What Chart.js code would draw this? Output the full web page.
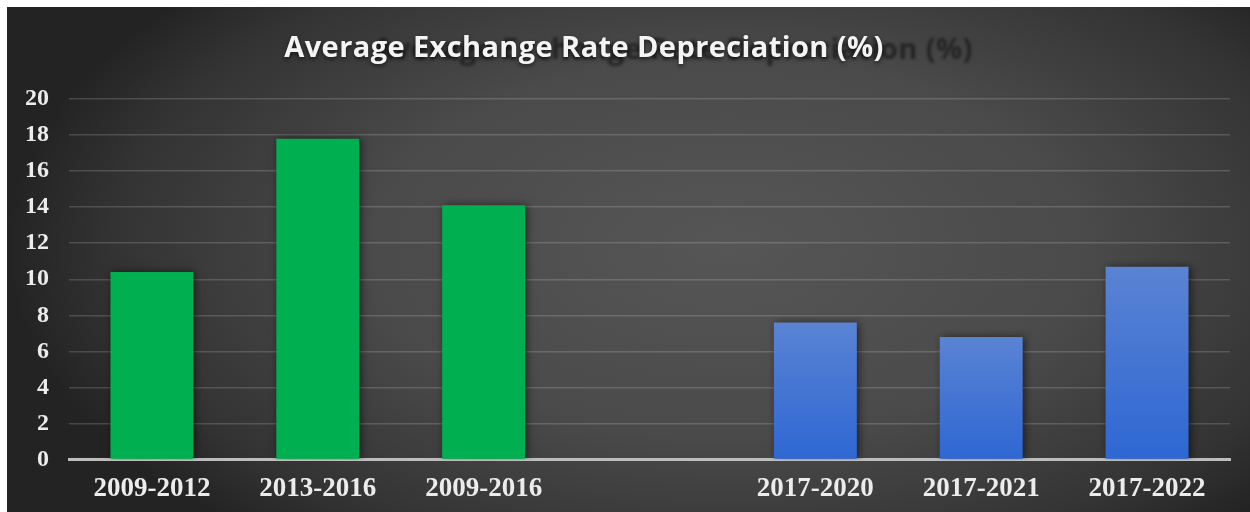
<!DOCTYPE html>
<html lang="en">
<head>
  <meta charset="UTF-8">
  <title>Average Exchange Rate Depreciation (%)</title>
  <script src="https://cdn.jsdelivr.net/npm/chart.js"></script>
  <style>
    html, body {
      margin: 0;
      padding: 0;
      background: #ffffff;
      width: 1250px;
      height: 512px;
      overflow: hidden;
    }
    .wrap {
      position: absolute;
      left: 7px;
      top: 7px;
      width: 1243px;
      height: 505px;
    }
  </style>
</head>
<body>
  <div class="wrap">
    <canvas id="depChart"></canvas>
  </div>

  <script>
    const titleText = 'Average Exchange Rate Depreciation (%)';
    const periods = ['2009-2012', '2013-2016', '2009-2016', '', '2017-2020', '2017-2021', '2017-2022'];
    const depreciation = [10.4, 17.8, 14.1, null, 7.6, 6.8, 10.7];
    // which bars belong to the earlier (green) and later (blue) periods
    const periodGroup = ['early', 'early', 'early', null, 'late', 'late', 'late'];
    const yTicks = [0, 2, 4, 6, 8, 10, 12, 14, 16, 18, 20];

    const serif = "'Liberation Serif', 'Times New Roman', serif";

    // dark vignette background + title with its faint offset shadow copy
    const backdrop = {
      id: 'backdrop',
      beforeDraw(chart) {
        const ctx = chart.ctx;
        const w = chart.width, h = chart.height;
        ctx.save();
        ctx.fillStyle = '#2a2a2a';
        ctx.fillRect(0, 0, w, h);
        ctx.translate(720, 240);
        ctx.scale(1.9, 1);
        const g = ctx.createRadialGradient(0, 0, 0, 0, 0, 380);
        g.addColorStop(0, '#565656');
        g.addColorStop(0.5, '#4a4a4a');
        g.addColorStop(0.85, '#333333');
        g.addColorStop(1, '#232323');
        ctx.fillStyle = g;
        ctx.fillRect(-400, -300, 800, 600);
        ctx.restore();

        ctx.save();
        ctx.font = "bold 29px 'Open Sans', Lato, sans-serif";
        ctx.letterSpacing = '0.4px';
        ctx.textAlign = 'center';
        ctx.textBaseline = 'alphabetic';
        ctx.filter = 'blur(1.5px)';
        ctx.fillStyle = 'rgba(28,28,28,0.8)';
        ctx.fillText(titleText, 577 + 89, 52);
        ctx.filter = 'none';
        ctx.shadowColor = 'rgba(0,0,0,0.6)';
        ctx.shadowBlur = 4;
        ctx.shadowOffsetY = 2;
        ctx.fillStyle = '#f4f4f4';
        ctx.fillText(titleText, 577, 50);
        ctx.restore();
      },
      beforeDatasetsDraw(chart) {
        const ctx = chart.ctx;
        ctx.save();
        ctx.shadowColor = 'rgba(0,0,0,0.55)';
        ctx.shadowBlur = 8;
        ctx.shadowOffsetX = 2;
        ctx.shadowOffsetY = 0;
      },
      afterDatasetsDraw(chart) {
        chart.ctx.restore();
      }
    };

    function barFill(context) {
      const i = context.dataIndex;
      if (periodGroup[i] === 'early') return '#00b050';
      const chart = context.chart;
      const y = chart.scales.y;
      if (!y || depreciation[i] == null) return '#3a6fd6';
      const top = y.getPixelForValue(depreciation[i]);
      const base = y.getPixelForValue(0);
      const g = chart.ctx.createLinearGradient(0, top, 0, base);
      g.addColorStop(0, '#5a83d3');
      g.addColorStop(1, '#2e67d3');
      return g;
    }

    new Chart(document.getElementById('depChart'), {
      type: 'bar',
      data: {
        labels: periods,
        datasets: [{
          data: depreciation,
          backgroundColor: barFill,
          borderWidth: 0,
          categoryPercentage: 1,
          barPercentage: 0.5
        }]
      },
      plugins: [backdrop],
      options: {
        responsive: true,
        maintainAspectRatio: false,
        animation: false,
        layout: { padding: { top: 92, right: 20, left: 0, bottom: 0 } },
        plugins: {
          legend: { display: false },
          title: { display: false },
          tooltip: { enabled: false }
        },
        scales: {
          x: {
            grid: { display: false, drawTicks: false },
            border: { display: true, color: '#bdbdbd', width: 3 },
            ticks: {
              color: '#ececec',
              padding: 13,
              font: { family: serif, size: 27, weight: 'bold' }
            },
            afterFit(scale) { scale.height = 52.5; }
          },
          y: {
            min: 0,
            max: 20,
            afterBuildTicks(scale) { scale.ticks = yTicks.map(v => ({ value: v })); },
            grid: { color: 'rgba(255,255,255,0.16)', lineWidth: 1.5, drawTicks: false },
            border: { display: false },
            ticks: {
              color: '#ececec',
              padding: 20,
              font: { family: serif, size: 24, weight: 'bold' }
            },
            afterFit(scale) { scale.width = 62; }
          }
        }
      }
    });
  </script>
</body>
</html>
